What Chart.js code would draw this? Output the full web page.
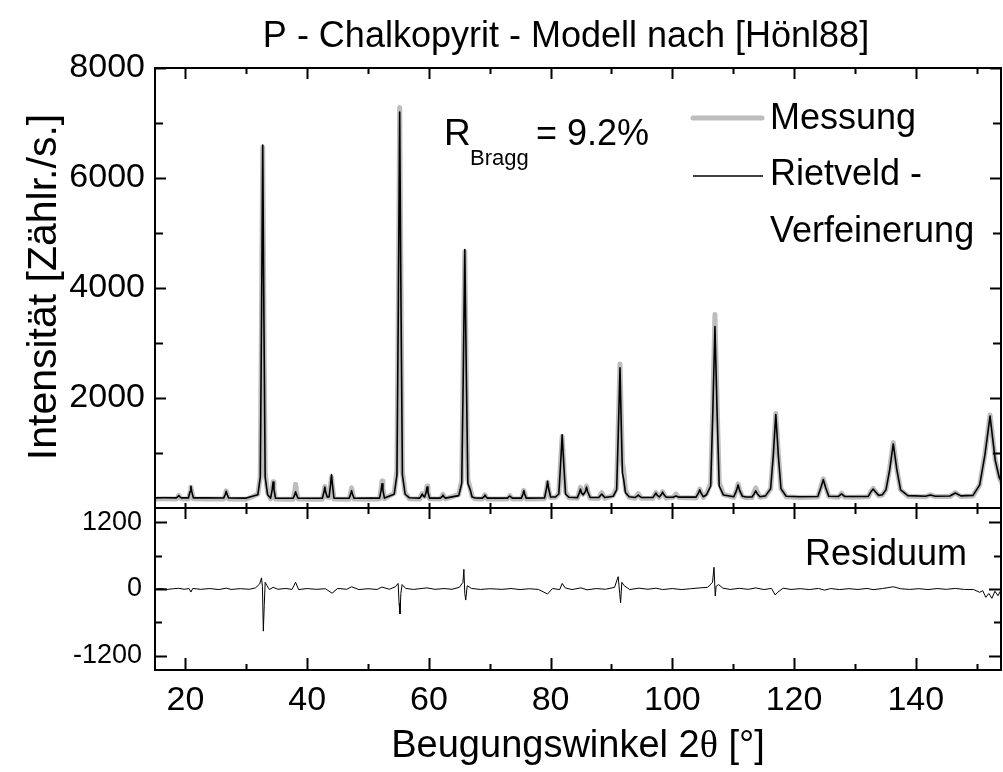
<!DOCTYPE html>
<html>
<head>
<meta charset="utf-8">
<title>P - Chalkopyrit - Modell nach [Hönl88]</title>
<script src="https://cdn.jsdelivr.net/npm/chart.js@4.4.1/dist/chart.umd.min.js"></script>
<style>
  html, body { margin: 0; padding: 0; background: #fff; }
</style>
</head>
<body>
<canvas id="xrd" width="1003" height="772"></canvas>
<script>
// ── Data ───────────────────────────────────────────────
const twoTheta = [
  15.0, 16.5, 18.5, 18.76, 18.9, 19.04, 19.3, 20.5, 20.76, 20.9, 21.04, 21.3, 23.5,
  26.3, 26.56, 26.7, 26.84, 27.1, 30.0, 31.9, 32.3, 32.5, 32.7, 32.9, 33.1, 33.5,
  34.0, 34.26, 34.4, 34.54, 34.8, 36.5, 37.7, 37.96, 38.1, 38.24, 38.5, 40.5,
  42.5, 42.76, 42.9, 43.04, 43.3, 43.6, 43.84, 44.0, 44.16, 44.4, 46.9, 47.16, 47.3,
  47.44, 47.7, 50.0, 51.9, 52.16, 52.3, 52.44, 52.7, 54.3, 54.75, 54.98, 55.2, 55.42,
  55.65, 56.1, 56.8, 58.5, 58.76, 58.9, 59.1, 59.3, 59.56, 59.7, 59.84, 60.1, 61.9,
  62.16, 62.3, 62.44, 62.7, 64.9, 65.4, 65.65, 65.9, 66.15, 66.4, 66.8, 67.1, 67.6,
  68.8, 69.06, 69.2, 69.34, 69.6, 72.9, 73.3, 73.7, 75.2, 75.46, 75.6, 75.74, 76.0,
  79.0, 79.32, 79.5, 79.68, 80.0, 80.8, 81.35, 81.62, 81.9, 82.18, 82.45, 83.0,
  84.4, 84.72, 84.9, 85.1, 85.35, 85.72, 85.9, 86.08, 86.5, 87.9, 88.22, 88.4, 88.58,
  88.9, 90.3, 90.85, 91.12, 91.4, 91.65, 91.8, 92.0, 92.3, 92.9, 93.9, 94.22, 94.4,
  94.58, 94.9, 96.8, 97.1, 97.3, 97.5, 97.85, 98.2, 98.4, 98.6, 99.0, 100.1, 100.6,
  101.1, 103.9, 104.28, 104.5, 104.72, 105.1, 105.6, 106.3, 106.65, 107.0, 107.35,
  107.7, 108.4, 110.1, 110.55, 110.8, 111.05, 111.5, 112.1, 113.1, 113.45, 113.7,
  113.95, 114.4, 115.3, 116.15, 116.58, 117.0, 117.42, 117.85, 118.7, 121.0, 123.9,
  124.4, 124.8, 125.2, 125.7, 127.3, 127.8, 128.3, 130.0, 132.2, 132.6, 133.0, 133.4,
  133.9, 134.5, 135.1, 135.7, 136.3, 136.9, 137.5, 138.7, 141.6, 142.4, 143.2, 145.6,
  146.5, 147.4, 149.4, 150.5, 151.35, 152.2, 153.05, 153.7, 154.3
];

// Rietveld refinement (black)
const calcCounts = [
  185, 186, 185, 207, 225, 207, 185, 185, 300, 395, 300, 185, 184,
  183, 250, 305, 250, 182, 180, 242, 563, 3389, 6600, 3389, 563, 242,
  178, 338, 470, 338, 178, 178, 178, 242, 295, 242, 178, 178,
  178, 290, 380, 290, 200, 200, 420, 610, 420, 180, 178, 253, 315,
  253, 178, 180, 180, 324, 440, 324, 180, 250, 600, 3690, 7200, 3690,
  600, 250, 185, 180, 222, 255, 215, 200, 290, 380, 290, 180, 180,
  210, 236, 210, 180, 225, 450, 2440, 4700, 2440, 450, 330, 200, 182,
  180, 210, 236, 210, 180, 180, 218, 180, 180, 255, 315, 255, 180,
  182, 350, 485, 350, 200, 200, 255, 760, 1330, 760, 255, 195,
  188, 275, 345, 270, 240, 300, 380, 300, 190, 190, 230, 255, 230,
  192, 215, 330, 1370, 2550, 1300, 640, 520, 280, 205, 192, 215, 236,
  215, 192, 193, 235, 273, 235, 200, 245, 290, 245, 195, 196, 220,
  197, 198, 270, 330, 270, 205, 240, 400, 1750, 3300, 1750,
  400, 235, 205, 320, 420, 320, 215, 200, 200, 260, 310,
  260, 205, 220, 350, 950, 1700, 950, 350, 215, 205, 210,
  370, 515, 370, 215, 210, 255, 210, 210, 212, 290, 345, 290,
  230, 240, 330, 690, 1165, 690, 330, 225, 215, 236, 215, 218,
  273, 220, 230, 420, 960, 1670, 870, 560, 420
];

// Measurement (grey)
const measCounts = [
  165, 167, 165, 195, 232, 198, 167, 165, 285, 378, 290, 167, 163,
  163, 245, 312, 248, 163, 160, 250, 580, 3450, 6560, 3300, 640, 280,
  165, 345, 478, 345, 163, 158, 160, 320, 430, 320, 163, 157,
  160, 295, 390, 295, 195, 192, 400, 560, 400, 165, 160, 280, 368,
  280, 163, 161, 165, 350, 490, 350, 167, 270, 680, 3650, 7280, 3950,
  660, 270, 170, 163, 230, 265, 225, 210, 300, 400, 300, 167, 163,
  215, 250, 218, 165, 245, 500, 2650, 4660, 2300, 520, 350, 205, 167,
  163, 215, 240, 215, 165, 163, 225, 165, 163, 255, 320, 258, 165,
  167, 330, 470, 335, 190, 195, 265, 800, 1300, 730, 290, 185,
  175, 300, 375, 290, 250, 320, 400, 310, 175, 173, 250, 280, 250,
  175, 230, 370, 1500, 2620, 1450, 830, 700, 330, 195, 177, 235, 262,
  235, 177, 175, 245, 282, 245, 190, 255, 298, 250, 180, 195, 255,
  190, 183, 280, 345, 280, 193, 255, 450, 1850, 3520, 1900,
  470, 245, 195, 330, 440, 335, 212, 187, 190, 300, 365,
  300, 195, 210, 350, 960, 1720, 980, 360, 205, 190, 200,
  380, 530, 385, 210, 197, 270, 200, 195, 203, 295, 355, 295,
  223, 235, 340, 710, 1190, 700, 330, 215, 205, 240, 207, 207,
  280, 210, 220, 420, 980, 1690, 880, 560, 410
];

// Residuum (measurement − refinement)
const resTheta = [
  15.0, 16.0, 17.0, 18.0, 18.9, 19.8, 20.6, 20.9, 21.2, 22.5, 24.0, 25.5, 26.7, 27.5,
  29.0, 30.5, 31.5, 32.2, 32.5, 32.65, 32.8, 32.95, 33.1, 33.4, 33.8, 34.4, 35.2,
  36.5, 37.5, 38.1, 38.6, 40.0, 41.5, 43.0, 44.1, 45.0, 46.5, 47.3, 48.5, 50.0,
  51.5, 52.3, 53.5, 54.5, 54.95, 55.1, 55.25, 55.4, 55.6, 56.2, 57.5, 59.0, 59.7,
  61.0, 62.5, 63.8, 65.0, 65.6, 65.75, 65.9, 66.05, 66.3, 67.0, 68.5, 70.0, 72.0,
  73.5, 75.0, 76.5, 78.0, 79.5, 80.3, 81.5, 81.9, 82.4, 83.5, 85.0, 86.0, 87.5,
  89.0, 90.5, 91.1, 91.35, 91.5, 91.7, 92.1, 93.0, 94.5, 96.0, 97.3, 98.4, 100.0,
  101.5, 103.0, 104.5, 105.8, 106.6, 106.85, 107.05, 107.2, 107.6, 108.3, 109.5,
  111.0, 112.5, 113.7, 115.0, 116.3, 116.9, 117.3, 118.2, 119.5, 121.0, 122.5,
  124.0, 125.0, 126.0, 127.5, 129.0, 130.5, 132.0, 133.0, 134.5, 136.3, 137.5,
  139.0, 140.5, 142.0, 143.5, 145.0, 146.5, 148.0, 149.5, 150.5, 151.0, 151.5,
  152.0, 152.5, 153.0, 153.5, 154.0
];
const resCounts = [
  0, 10, -8, 5, 12, -5, 8, -55, 10, -6, 8, -10, 15, -8,
  6, -5, 20, 90, 200, 40, -760, -300, 120, 60, -10, 30, -5,
  10, -8, 120, -10, 8, -6, 5, -75, 10, -5, 40, -10, 5,
  -8, 35, -5, 40, 100, -250, -450, -80, 80, 10, -8, 12, 20,
  -6, 8, -5, 30, 120, 355, -80, -200, 60, 10, -8, 5, -6,
  8, -10, 5, -8, -90, 8, -10, 100, 20, -10, 20, -15, 8,
  -5, 30, 222, -80, -247, 120, 60, -10, 15, -5, 15, -10, 8,
  -10, 5, 20, 30, 120, 392, -126, 50, 80, 15, -8,
  12, -6, 20, -10, 10, -108, -60, 15, -8, 6, -10,
  10, -20, 8, -10, 6, -8, 10, -12, 8, 40, 5,
  -8, 6, -10, 8, -6, 10, -8, -10, -60, -30, -150,
  -80, -168, -40, -120, -20
];

// ── Axis ticks ─────────────────────────────────────────
const xMajor   = [20, 40, 60, 80, 100, 120, 140];
const xMinor   = [30, 50, 70, 90, 110, 130, 150];
const topMajor = [2000, 4000, 6000, 8000];
const topMinor = [1000, 3000, 5000, 7000];
const resMajor = [-1200, 0, 1200];
const resMinor = [-600, 600];

const SANS  = 'Arial, "Liberation Sans", Helvetica, sans-serif';
const SERIF = '"Liberation Serif", "DejaVu Serif", serif';

const pts = (xs, ys) => xs.map((x, i) => ({ x, y: ys[i] }));
const fixTicks = vals => scale => { scale.ticks = vals.map(v => ({ value: v })); };
const plain = v => String(v);

// ── Frame, inward ticks, annotations ───────────────────
const framePlugin = {
  id: 'frame',
  afterDatasetsDraw(chart) {
    const { ctx, chartArea: { left, right }, scales: { x, yTop, yRes } } = chart;
    ctx.save();
    ctx.strokeStyle = '#000';
    ctx.lineWidth = 2;
    ctx.lineCap = 'butt';
    for (const s of [yTop, yRes]) ctx.strokeRect(left, s.top, right - left, s.bottom - s.top);

    ctx.beginPath();
    const seg = (x1, y1, x2, y2) => { ctx.moveTo(x1, y1); ctx.lineTo(x2, y2); };
    const xt = (vals, lTop, lMid1, lMid2, lBot) => {
      for (const v of vals) {
        const px = Math.round(x.getPixelForValue(v)) + 0.5;
        if (px > right - 1) continue;
        seg(px, yTop.top, px, yTop.top + lTop);
        seg(px, yTop.bottom, px, yTop.bottom - lMid1);
        seg(px, yRes.top, px, yRes.top + lMid2);
        seg(px, yRes.bottom, px, yRes.bottom - lBot);
      }
    };
    xt(xMajor, 11, 5, 11, 12);
    xt(xMinor, 6, 5, 6, 6);
    const yt = (scale, vals, len) => {
      for (const v of vals) {
        const py = Math.round(scale.getPixelForValue(v)) + 0.5;
        seg(left, py, left + len, py);
        seg(right, py, right - len, py);
      }
    };
    yt(yTop, topMajor, 11);
    yt(yTop, topMinor, 8);
    yt(yRes, resMajor, 12);
    yt(yRes, resMinor, 7);
    ctx.stroke();
    ctx.restore();
  },
  afterDraw(chart) {
    const { ctx } = chart;
    ctx.save();
    ctx.fillStyle = '#000';
    ctx.textBaseline = 'alphabetic';

    // title
    ctx.font = `36px ${SANS}`;
    ctx.textAlign = 'center';
    ctx.fillText('P - Chalkopyrit - Modell nach [Hönl88]', 566, 47);

    // y axis title
    ctx.save();
    ctx.translate(56, 287);
    ctx.rotate(-Math.PI / 2);
    ctx.font = `41px ${SANS}`;
    ctx.fillText('Intensität [Zählr./s.]', 0, 0);
    ctx.restore();

    // x axis title with serif theta
    const parts = [['Beugungswinkel 2', SANS], ['\u03B8', SERIF], [' [°]', SANS]];
    let total = 0;
    for (const [t, f] of parts) { ctx.font = `38px ${f}`; total += ctx.measureText(t).width; }
    let cx = 578 - total / 2;
    ctx.textAlign = 'left';
    for (const [t, f] of parts) {
      ctx.font = `38px ${f}`;
      ctx.fillText(t, cx, 757);
      cx += ctx.measureText(t).width;
    }

    // R_Bragg
    ctx.font = `37px ${SANS}`;
    ctx.fillText('R', 444, 145);
    ctx.font = `22px ${SANS}`;
    ctx.fillText('Bragg', 470, 165);
    ctx.font = `36px ${SANS}`;
    ctx.fillText('= 9.2%', 536, 145);

    // legend
    ctx.lineCap = 'round';
    ctx.strokeStyle = '#bdbdbd';
    ctx.lineWidth = 5;
    ctx.beginPath(); ctx.moveTo(693, 118); ctx.lineTo(762, 118); ctx.stroke();
    ctx.lineCap = 'butt';
    ctx.strokeStyle = '#000';
    ctx.lineWidth = 1.5;
    ctx.beginPath(); ctx.moveTo(693, 176); ctx.lineTo(763, 176); ctx.stroke();
    ctx.fillText('Messung', 770, 129);
    ctx.fillText('Rietveld -', 770, 185);
    ctx.fillText('Verfeinerung', 770, 242);

    // residual label
    ctx.fillText('Residuum', 805, 565);
    ctx.restore();
  },
};

const axisFont = size => ({ family: SANS, size });

new Chart(document.getElementById('xrd'), {
  type: 'line',
  data: {
    datasets: [
      {
        label: 'Messung',
        data: pts(twoTheta, measCounts),
        yAxisID: 'yTop',
        borderColor: '#bdbdbd',
        borderWidth: 5,
        borderJoinStyle: 'round',
        borderCapStyle: 'round',
        pointRadius: 0,
        tension: 0,
        order: 3,
      },
      {
        label: 'Rietveld - Verfeinerung',
        data: pts(twoTheta, calcCounts),
        yAxisID: 'yTop',
        borderColor: '#000',
        borderWidth: 1.6,
        borderJoinStyle: 'round',
        pointRadius: 0,
        tension: 0,
        order: 1,
      },
      {
        label: 'Residuum',
        data: pts(resTheta, resCounts),
        yAxisID: 'yRes',
        borderColor: '#000',
        borderWidth: 1,
        pointRadius: 0,
        tension: 0,
        order: 2,
      },
    ],
  },
  options: {
    responsive: false,
    animation: false,
    devicePixelRatio: 1,
    events: [],
    parsing: false,
    layout: { padding: { top: 68, right: 2, left: 0, bottom: 0 } },
    plugins: { legend: { display: false }, tooltip: { enabled: false } },
    scales: {
      x: {
        type: 'linear',
        min: 15,
        max: 154,
        grid: { display: false, drawTicks: false },
        border: { display: false },
        ticks: { font: axisFont(34), color: '#000', padding: 10, maxRotation: 0, callback: plain },
        afterBuildTicks: fixTicks(xMajor),
        afterFit: s => { s.height = 102; },
      },
      // stacked panels: the first listed ends up at the bottom
      yRes: {
        type: 'linear',
        position: 'left',
        stack: 'panels',
        stackWeight: 162,
        min: -1460,
        max: 1460,
        grid: { display: false, drawTicks: false },
        border: { display: false },
        ticks: { font: axisFont(27), color: '#000', padding: 13, callback: plain },
        afterBuildTicks: fixTicks(resMajor),
        afterFit: s => { s.width = 155; },
      },
      yTop: {
        type: 'linear',
        position: 'left',
        stack: 'panels',
        stackWeight: 440,
        min: 0,
        max: 8000,
        grid: { display: false, drawTicks: false },
        border: { display: false },
        ticks: { font: axisFont(34), color: '#000', padding: 10, callback: plain },
        afterBuildTicks: fixTicks(topMajor),
        afterFit: s => { s.width = 155; },
      },
    },
  },
  plugins: [framePlugin],
});
</script>
</body>
</html>
